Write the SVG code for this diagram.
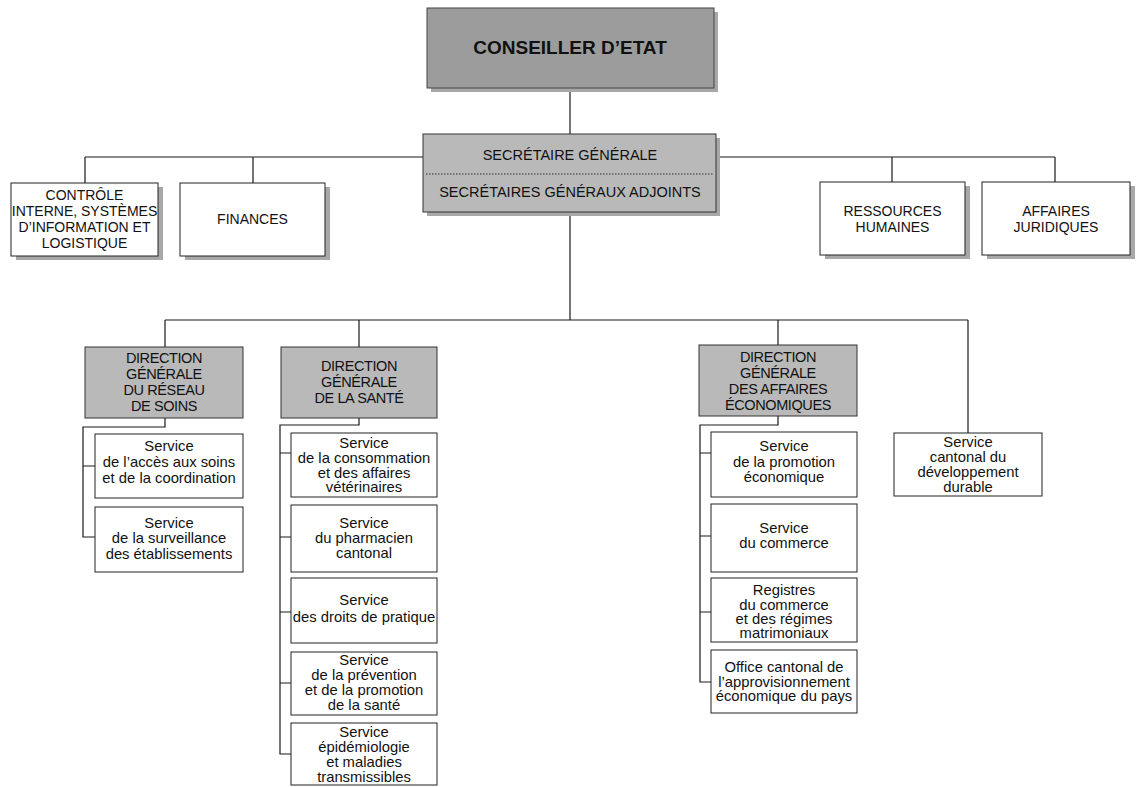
<svg xmlns="http://www.w3.org/2000/svg" width="1140" height="787" viewBox="0 0 1140 787">
<style>
  .bg{fill:#ffffff}
  .conn{fill:none;stroke:#1a1a1a;stroke-width:1.2}
  .sh{fill:#a8a8a8}
  .wbox{fill:#ffffff;stroke:#222;stroke-width:1}
  .gbox{fill:#b9b9b9;stroke:#333;stroke-width:1}
  .top{fill:#9c9c9c;stroke:#444;stroke-width:1}
  .sep{stroke:#333;stroke-width:1;stroke-dasharray:1.5 1.5}
  text{font-family:"Liberation Sans",Arial,sans-serif;fill:#111;text-anchor:middle}
  .t14{font-size:14px}
  .dg{font-size:14.5px;letter-spacing:-0.4px}
  .svc{font-size:14.8px}
  .big{font-size:19px;font-weight:bold}
  .sec{font-size:14.5px}
</style>
<rect class="bg" x="0" y="0" width="1140" height="787"/>

<g id="connectors">
  <path class="conn" d="M570,88 V134"/>
  <path class="conn" d="M570,212 V320"/>
  <path class="conn" d="M85,157 H1055"/>
  <path class="conn" d="M85,157 V183 M253,157 V183 M892,157 V182 M1055,157 V182"/>
  <path class="conn" d="M165,320 H968 M165,320 V347 M359,320 V347 M778,320 V345 M968,320 V433"/>
  <path class="conn" d="M165,418 V427 H83 V537 H95 M83,466 H95"/>
  <path class="conn" d="M359,418 V425 H280 V754 H291 M280,453 H291 M280,537 H291 M280,612 H291 M280,683 H291"/>
  <path class="conn" d="M778,416 V425 H700 V682 H711 M700,453 H711 M700,536 H711 M700,612 H711"/>
</g>

<g id="conseiller">
  <rect class="sh" x="431" y="12" width="287" height="80"/>
  <rect class="top" x="427" y="8" width="287" height="80"/>
  <text class="big" x="570" y="54">CONSEILLER D’ETAT</text>
</g>

<g id="secretaire">
  <rect class="sh" x="427" y="138" width="293" height="78"/>
  <rect class="gbox" x="423" y="134" width="293" height="78"/>
  <line class="sep" x1="426" y1="174" x2="713" y2="174"/>
  <text class="sec" x="570" y="160">SECRÉTAIRE GÉNÉRALE</text>
  <text class="sec" x="570" y="197">SECRÉTAIRES GÉNÉRAUX ADJOINTS</text>
</g>

<g id="controle">
  <rect class="sh" x="16" y="187" width="147" height="73"/>
  <rect class="wbox" x="11" y="183" width="147" height="73"/>
  <text class="t14" x="84.5" y="200">CONTRÔLE</text>
  <text class="t14" x="84.5" y="216">INTERNE, SYSTÈMES</text>
  <text class="t14" x="84.5" y="232">D’INFORMATION ET</text>
  <text class="t14" x="84.5" y="248">LOGISTIQUE</text>
</g>

<g id="finances">
  <rect class="sh" x="185" y="187" width="145" height="73"/>
  <rect class="wbox" x="180" y="183" width="145" height="73"/>
  <text class="t14" x="252.5" y="224">FINANCES</text>
</g>

<g id="rh">
  <rect class="sh" x="825" y="186" width="145" height="73"/>
  <rect class="wbox" x="820" y="182" width="145" height="73"/>
  <text class="t14" x="892.5" y="216">RESSOURCES</text>
  <text class="t14" x="892.5" y="232">HUMAINES</text>
</g>

<g id="juridiques">
  <rect class="sh" x="987" y="186" width="148" height="73"/>
  <rect class="wbox" x="982" y="182" width="148" height="73"/>
  <text class="t14" x="1056" y="216">AFFAIRES</text>
  <text class="t14" x="1056" y="232">JURIDIQUES</text>
</g>

<g id="dg-soins">
  <rect class="gbox" x="85" y="347" width="158" height="71"/>
  <text class="dg" x="164" y="363">DIRECTION</text>
  <text class="dg" x="164" y="379">GÉNÉRALE</text>
  <text class="dg" x="164" y="395">DU RÉSEAU</text>
  <text class="dg" x="164" y="411">DE SOINS</text>
</g>

<g id="dg-sante">
  <rect class="gbox" x="281" y="347" width="156" height="71"/>
  <text class="dg" x="359" y="371">DIRECTION</text>
  <text class="dg" x="359" y="387">GÉNÉRALE</text>
  <text class="dg" x="359" y="403">DE LA SANTÉ</text>
</g>

<g id="dg-eco">
  <rect class="gbox" x="699" y="345" width="158" height="71"/>
  <text class="dg" x="778" y="362">DIRECTION</text>
  <text class="dg" x="778" y="378">GÉNÉRALE</text>
  <text class="dg" x="778" y="394">DES AFFAIRES</text>
  <text class="dg" x="778" y="410">ÉCONOMIQUES</text>
</g>

<g id="svc-acces">
  <rect class="wbox" x="95" y="434" width="148" height="64"/>
  <text class="svc" x="169" y="451">Service</text>
  <text class="svc" x="169" y="467">de l’accès aux soins</text>
  <text class="svc" x="169" y="483">et de la coordination</text>
</g>
<g id="svc-surveillance">
  <rect class="wbox" x="95" y="507" width="148" height="65"/>
  <text class="svc" x="169" y="528">Service</text>
  <text class="svc" x="169" y="543">de la surveillance</text>
  <text class="svc" x="169" y="559">des établissements</text>
</g>

<g id="svc-consommation">
  <rect class="wbox" x="291" y="433" width="146" height="64"/>
  <text class="svc" x="364" y="448">Service</text>
  <text class="svc" x="364" y="463">de la consommation</text>
  <text class="svc" x="364" y="478">et des affaires</text>
  <text class="svc" x="364" y="492">vétérinaires</text>
</g>
<g id="svc-pharmacien">
  <rect class="wbox" x="291" y="505" width="146" height="67"/>
  <text class="svc" x="364" y="528">Service</text>
  <text class="svc" x="364" y="543">du pharmacien</text>
  <text class="svc" x="364" y="558">cantonal</text>
</g>
<g id="svc-droits">
  <rect class="wbox" x="291" y="578" width="146" height="65"/>
  <text class="svc" x="364" y="605">Service</text>
  <text class="svc" x="364" y="622">des droits de pratique</text>
</g>
<g id="svc-prevention">
  <rect class="wbox" x="291" y="652" width="146" height="63"/>
  <text class="svc" x="364" y="665">Service</text>
  <text class="svc" x="364" y="680">de la prévention</text>
  <text class="svc" x="364" y="695">et de la promotion</text>
  <text class="svc" x="364" y="710">de la santé</text>
</g>
<g id="svc-epidemiologie">
  <rect class="wbox" x="291" y="723" width="146" height="62"/>
  <text class="svc" x="364" y="737">Service</text>
  <text class="svc" x="364" y="752">épidémiologie</text>
  <text class="svc" x="364" y="767">et maladies</text>
  <text class="svc" x="364" y="782">transmissibles</text>
</g>

<g id="svc-promotion">
  <rect class="wbox" x="711" y="432" width="146" height="65"/>
  <text class="svc" x="784" y="451">Service</text>
  <text class="svc" x="784" y="467">de la promotion</text>
  <text class="svc" x="784" y="482">économique</text>
</g>
<g id="svc-commerce">
  <rect class="wbox" x="711" y="504" width="146" height="68"/>
  <text class="svc" x="784" y="533">Service</text>
  <text class="svc" x="784" y="548">du commerce</text>
</g>
<g id="registres">
  <rect class="wbox" x="711" y="578" width="146" height="64"/>
  <text class="svc" x="784" y="595">Registres</text>
  <text class="svc" x="784" y="610">du commerce</text>
  <text class="svc" x="784" y="624">et des régimes</text>
  <text class="svc" x="784" y="638">matrimoniaux</text>
</g>
<g id="office">
  <rect class="wbox" x="711" y="650" width="146" height="63"/>
  <text class="svc" x="784" y="672">Office cantonal de</text>
  <text class="svc" x="784" y="687">l’approvisionnement</text>
  <text class="svc" x="784" y="701">économique du pays</text>
</g>

<g id="svc-durable">
  <rect class="wbox" x="894" y="433" width="148" height="63"/>
  <text class="svc" x="968" y="447">Service</text>
  <text class="svc" x="968" y="462">cantonal du</text>
  <text class="svc" x="968" y="477">développement</text>
  <text class="svc" x="968" y="492">durable</text>
</g>
</svg>
